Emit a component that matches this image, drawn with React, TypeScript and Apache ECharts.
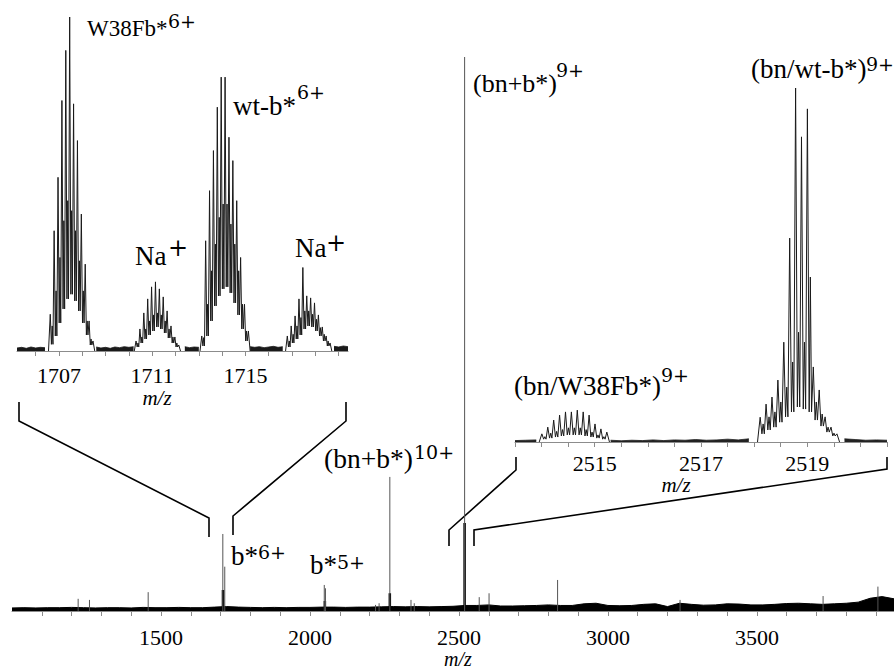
import React, { useEffect, useRef } from "react";
import * as echarts from "echarts";

// ---------------- main spectrum (m/z 1000–3960, relative intensity 0–100) ----------------
const mainTickLabels = [1500, 2000, 2500, 3000, 3500];
const mainStickMz = [1222, 1260, 1457, 1707.5, 1714, 2048, 2052, 2220, 2232, 2268, 2339, 2350, 2519, 2568, 2601, 2831, 3242, 3722, 3906];
const mainStickInt = [2.2, 2.0, 3.4, 13.9, 8.0, 4.7, 4.1, 1.1, 1.4, 24.2, 2.0, 1.4, 100, 2.5, 3.2, 5.6, 2.0, 2.7, 4.4];
const mainClusterMz = [1708, 2050, 2268, 2519];
const mainClusterInt = [3.8, 1.8, 3.2, 15.9];
const mainNoiseStart = 1000;
const mainNoiseStep = 40;
const mainNoise = [
  0.55, 0.6, 0.55, 0.6, 0.6, 0.65, 0.6, 0.55, 0.6, 0.6,
  0.55, 0.65, 0.6, 0.6, 0.65, 0.6, 0.6, 0.7, 0.8, 0.7,
  0.65, 0.6, 0.65, 0.6, 0.65, 0.65, 0.7, 0.7, 0.65, 0.7,
  0.7, 0.75, 0.8, 0.75, 0.8, 0.75, 0.8, 0.85, 1.0, 1.0,
  1.1, 0.9, 0.9, 0.95, 1.0, 1.1, 1.0, 1.0, 1.3, 1.4,
  1.0, 0.95, 1.0, 1.2, 1.3, 0.8, 1.4, 1.2, 1.05, 1.1,
  1.3, 1.25, 1.1, 1.1, 1.2, 1.35, 1.4, 1.3, 1.2, 1.3,
  1.4, 1.6, 2.3, 2.6, 2.2,
];

// ---------------- inset 1: charge 6+, m/z 1705.2–1719.4 ----------------
const inset1TickLabels = [1707, 1711, 1715];
const spacing6 = 1 / 6;
const w38Center = 1707.46;
const w38Peaks = [11, 36, 52, 75, 90, 100, 74, 63, 41, 26, 9, 3];
const w38Valleys = [2, 4.5, 8.4, 12.6, 15.6, 17, 15, 12, 8.4, 4.8, 1.8];
const w38Subs = [7.5, 18, 28, 39, 45, 42, 36, 27, 18, 9, 3.6];
const na1Center = 1711.14;
const na1Peaks = [3, 6.6, 11.4, 15.6, 19.2, 20.7, 18.6, 16.2, 12, 7.5, 4.2, 1.8];
const na1Valleys = [1.2, 2.4, 3.6, 4.8, 6, 7.2, 6.6, 5.4, 3.9, 2.4, 1.2];
const na1Subs = [2.4, 4.2, 6.6, 9, 10.8, 11.4, 10.8, 9, 6.6, 4.2, 2.4];
const wtCenter = 1713.96;
const wtPeaks = [4.5, 33, 48, 60, 73, 82, 82, 64, 57, 45, 28, 14, 6];
const wtValleys = [1.5, 4.5, 9, 13.5, 16.5, 18.6, 19.2, 17.4, 14.4, 10.8, 6.6, 3];
const wtSubs = [4, 14, 24, 32, 40, 44, 44, 38, 32, 24, 14, 6];
const na2Center = 1717.63;
const na2Peaks = [4.5, 7.5, 10.5, 15.6, 25, 16.5, 15.9, 14.4, 10.8, 7.2, 4.5, 2.4];
const na2Valleys = [1.2, 2.4, 3.6, 4.8, 6.6, 7.5, 7.2, 6, 4.5, 3, 1.5];
const na2Subs = [3, 5, 7.5, 10, 12, 12, 11, 9.5, 7, 5, 3];
const inset1NoiseStart = 1705.2;
const inset1NoiseStep = 0.2;
const inset1Noise = [
  0.9, 1.1, 0.8, 1.2, 0.9, 1.1, 1.0,
  null, null, null, null, null, null, null, null, null, null,
  1.2, 0.9, 1.1, 0.8, 1.2, 1.0, 1.3, 1.1, 1.3,
  null, null, null, null, null, null, null, null, null, null,
  1.3, 1.0, 1.2, 1.1,
  null, null, null, null, null, null, null, null, null, null,
  1.3, 1.1, 1.3, 1.0, 1.2, 1.4, 1.1, 1.3,
  null, null, null, null, null, null, null, null, null, null,
  1.4, 1.2, 1.5, 1.3,
];

// ---------------- inset 2: charge 9+, m/z 2513.5–2520.5 ----------------
const inset2TickLabels = [2515, 2517, 2519];
const spacing9 = 1 / 9;
const bnW38Center = 2514.45;
const bnW38Peaks = [2.3, 4.2, 6.2, 7.6, 8.5, 8.5, 9, 8.5, 7.6, 5.1, 3.7, 2.8];
const bnW38Valleys = [0.8, 1.1, 1.4, 1.7, 2, 2, 2, 1.7, 1.4, 1.1, 0.8];
const bnW38Subs = [1.5, 2.5, 3, 3.5, 4, 4, 4, 3.5, 2.8, 2, 1.5];
const bnWtCenter = 2518.78;
const bnWtPeaks = [7, 10.7, 12.7, 17.5, 28.2, 57.6, 100, 86.2, 94.1, 21.2, 14.7, 7.1, 4.2, 2.3];
const bnWtValleys = [2.3, 3.4, 4.2, 5.6, 7.1, 8.5, 9.9, 9.3, 8.5, 6.2, 4.5, 2.8, 1.7];
const bnWtSubs = [5.1, 7.1, 8.5, 11.3, 15.5, 22.6, 31, 28.2, 46.6, 11.3, 7.9, 4.2, 2.5];
const inset2NoiseStart = 2513.5;
const inset2NoiseStep = 0.2;
const inset2Noise = [
  0.4, 0.5, 0.6,
  null, null, null, null, null, null,
  0.5, 0.35, 0.5, 0.4, 0.6, 0.4, 0.6, 0.5, 0.7, 0.5, 0.6, 0.8, 0.6, 0.9,
  null, null, null, null, null, null, null, null,
  0.9, 0.7, 0.5, 0.6, 0.5,
];

// ---------------- helpers ----------------
type Pt = [number, number | string];

function sticks(mz: number[], h: number[]): Pt[] {
  const out: Pt[] = [];
  mz.forEach((m, i) => {
    out.push([m, 0], [m, h[i]], [m, "-"]);
  });
  return out;
}

function noiseSeries(start: number, step: number, vals: (number | null)[]): Pt[] {
  return vals.map((v, i) => [+(start + i * step).toFixed(4), v === null ? "-" : v]);
}

function cluster(center: number, spacing: number, kStart: number, peaks: number[], valleys: number[], subs: number[]): Pt[] {
  const mz = (i: number) => center + (kStart + i) * spacing;
  const pts: Pt[] = [[mz(0) - 0.45 * spacing, 0]];
  peaks.forEach((p, i) => {
    pts.push([mz(i), p]);
    if (i < peaks.length - 1) {
      pts.push([mz(i) + 0.3 * spacing, valleys[i]]);
      pts.push([mz(i) + 0.5 * spacing, subs[i]]);
      pts.push([mz(i) + 0.7 * spacing, valleys[i]]);
    }
  });
  pts.push([mz(peaks.length - 1) + 0.45 * spacing, 0]);
  return pts;
}

const SERIF = "Liberation Serif, Times New Roman, serif";
const SUP = "DejaVu Serif, serif";

function txt(text: string, x: number, y: number, size: number, family = SERIF, extra: any = {}) {
  return {
    type: "text",
    x,
    y,
    silent: true,
    style: { text, fontSize: size, fontFamily: family, fill: "#000", verticalAlign: "middle", textAlign: "left", ...extra },
  };
}

function bracket(points: number[][]) {
  return { type: "polyline", silent: true, shape: { points }, style: { stroke: "#000", lineWidth: 1.6, fill: null } };
}

function xAxis(gridIndex: number, min: number, max: number, ticks: number[], labels: number[], margin: number) {
  return {
    type: "value",
    gridIndex,
    min,
    max,
    axisLine: { show: true, onZero: false, lineStyle: { color: "#8c8c8c", width: 1 } },
    axisTick: { show: true, customValues: ticks, length: 5, lineStyle: { color: "#8c8c8c", width: 1 } },
    axisLabel: {
      customValues: labels,
      formatter: (v: number) => String(v),
      margin,
      fontSize: 22,
      fontFamily: SERIF,
      color: "#000",
    },
    splitLine: { show: false },
  };
}

function yAxis(gridIndex: number) {
  return { type: "value", gridIndex, min: 0, max: 100, show: false };
}

function lineSeries(xi: number, data: Pt[], color: string, width: number, area = false, z = 3) {
  return {
    type: "line",
    xAxisIndex: xi,
    yAxisIndex: xi,
    data,
    showSymbol: false,
    symbol: "none",
    silent: true,
    z,
    connectNulls: false,
    lineStyle: { color, width },
    areaStyle: area ? { color, opacity: 1 } : undefined,
  };
}

export default function App() {
  const ref = useRef<HTMLDivElement>(null);
  useEffect(() => {
    if (!ref.current) return;
    const chart = echarts.init(ref.current, undefined, { renderer: "svg" });

    const mainTicks: number[] = [];
    for (let v = 1100; v <= 3900; v += 100) mainTicks.push(v);
    const in1Ticks: number[] = [];
    for (let v = 1706; v <= 1719; v += 1) in1Ticks.push(v);
    const in2Ticks: number[] = [];
    for (let v = 2513.5; v <= 2520.5 + 1e-6; v += 0.5) in2Ticks.push(v);

    const option: any = {
      animation: false,
      backgroundColor: "#fff",
      grid: [
        { left: 12, right: 0, top: 57, bottom: 58 },
        { left: 17, right: 546, top: 17, bottom: 318 },
        { left: 515, right: 7, top: 88, bottom: 227 },
      ],
      xAxis: [
        xAxis(0, 1000, 3960, mainTicks, mainTickLabels, 15),
        xAxis(1, 1705.2, 1719.4, in1Ticks, inset1TickLabels, 13),
        xAxis(2, 2513.5, 2520.5, in2Ticks, inset2TickLabels, 10),
      ],
      yAxis: [yAxis(0), yAxis(1), yAxis(2)],
      series: [
        lineSeries(0, noiseSeries(mainNoiseStart, mainNoiseStep, mainNoise), "#000", 1, true, 2),
        lineSeries(0, sticks(mainClusterMz, mainClusterInt), "#000", 2.5),
        lineSeries(0, sticks(mainStickMz, mainStickInt), "#555", 1),
        lineSeries(1, noiseSeries(inset1NoiseStart, inset1NoiseStep, inset1Noise), "#1a1a1a", 0.8, true, 2),
        lineSeries(1, cluster(w38Center, spacing6, -5, w38Peaks, w38Valleys, w38Subs), "#1a1a1a", 1),
        lineSeries(1, cluster(na1Center, spacing6, -5, na1Peaks, na1Valleys, na1Subs), "#1a1a1a", 1),
        lineSeries(1, cluster(wtCenter, spacing6, -5, wtPeaks, wtValleys, wtSubs), "#1a1a1a", 1),
        lineSeries(1, cluster(na2Center, spacing6, -5, na2Peaks, na2Valleys, na2Subs), "#1a1a1a", 1),
        lineSeries(2, noiseSeries(inset2NoiseStart, inset2NoiseStep, inset2Noise), "#222", 0.8, true, 2),
        lineSeries(2, cluster(bnW38Center, spacing9, -4, bnW38Peaks, bnW38Valleys, bnW38Subs), "#1a1a1a", 1),
        lineSeries(2, cluster(bnWtCenter, spacing9, -6, bnWtPeaks, bnWtValleys, bnWtSubs), "#1a1a1a", 1),
      ],
      graphic: [
        // zoom brackets
        bracket([[19, 402], [19, 421], [209, 518], [209, 537]]),
        bracket([[346, 402], [346, 421], [233, 516], [233, 535]]),
        bracket([[516, 457], [516, 470], [449, 530], [449, 546]]),
        bracket([[887, 457], [887, 469], [474, 530], [474, 546]]),
        // inset 1 labels
        txt("W38Fb*", 87, 28.9, 23),
        txt("6+", 168, 21.3, 19, SUP),
        txt("wt-b*", 233, 106, 27),
        txt("6+", 297, 92.3, 19, SUP),
        txt("Na", 135, 256, 27),
        txt("+", 168, 247.5, 24, SUP),
        txt("Na", 295, 248, 27),
        txt("+", 326, 243, 24, SUP),
        // main labels
        txt("(bn+b*)", 473, 83.2, 26),
        txt("9+", 556, 70.3, 19, SUP),
        txt("(bn/wt-b*)", 751, 69, 27),
        txt("9+", 866, 64.3, 19, SUP),
        txt("(bn/W38Fb*)", 514, 386, 27),
        txt("9+", 661, 375.3, 19, SUP),
        txt("(bn+b*)", 324, 458, 27.5),
        txt("10+", 414, 452.3, 19, SUP),
        txt("b*", 231, 556, 27),
        txt("6+", 258, 552.3, 19, SUP),
        txt("b*", 310, 565, 27),
        txt("5+", 337, 562.3, 19, SUP),
        // axis titles
        txt("m/z", 458, 659, 20, SERIF, { textAlign: "center", fontStyle: "italic" }),
        txt("m/z", 157, 398, 21, SERIF, { textAlign: "center", fontStyle: "italic" }),
        txt("m/z", 676, 485, 21, SERIF, { textAlign: "center", fontStyle: "italic" }),
      ],
    };
    chart.setOption(option);
    return () => chart.dispose();
  }, []);
  return (
    <div
      ref={ref}
      style={{ position: "absolute", left: 0, top: 0, width: 894, height: 669, background: "#fff" }}
    />
  );
}
